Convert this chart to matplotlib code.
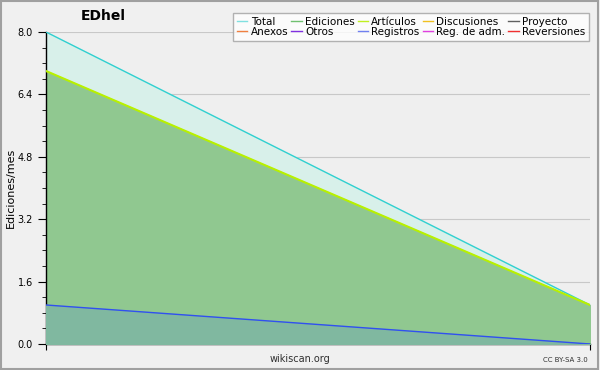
import matplotlib
matplotlib.use("Agg")
import matplotlib.pyplot as plt
from matplotlib.lines import Line2D
from matplotlib.patches import Rectangle

# data: two months
x = [0, 1]
total = [8.0, 1.0]
ediciones = [7.0, 1.0]
articulos = [7.0, 1.0]
registros = [1.0, 0.0]

legend_names = ["Total", "Ediciones", "Artículos", "Discusiones", "Proyecto",
                "Anexos", "Otros", "Registros", "Reg. de adm.", "Reversiones"]
legend_colors = ["#80e0e0", "#70c070", "#c0f020", "#f0c020", "#606060",
                 "#f08040", "#8030e0", "#7080f0", "#e040e0", "#f03030"]

fig = plt.figure(figsize=(6, 3.7), dpi=100)
fig.patch.set_facecolor("#f0f0f0")
fig.patches.append(Rectangle((0.002, 0.003), 0.994, 0.994, transform=fig.transFigure,
                             fill=False, edgecolor="#a0a0a0", linewidth=1.5))

ax = fig.add_axes([0.0767, 0.0703, 0.9066, 0.8432])
ax.set_facecolor("#efefef")

ax.fill_between(x, total, color="#d8f0ea", zorder=1)
ax.plot(x, total, color="#30d0d0", linewidth=1, zorder=4)
ax.fill_between(x, ediciones, color="#90c890", zorder=2)
ax.plot(x, articulos, color="#b8f000", linewidth=1.5, zorder=5)
ax.fill_between(x, registros, color="#80b8a0", zorder=3)
ax.plot(x, registros, color="#3050f0", linewidth=1, zorder=6)

ax.set_xlim(0, 1)
ax.set_ylim(0, 8)
ax.set_yticks([0, 1.6, 3.2, 4.8, 6.4, 8.0])
ax.set_yticklabels(["0.0", "1.6", "3.2", "4.8", "6.4", "8.0"])
ax.set_yticks([0.4 * i for i in range(21)], minor=True)
ax.set_xticks([0, 1])
ax.set_xticklabels([])
ax.tick_params(axis="y", which="major", length=6, labelsize=7, colors="black")
ax.tick_params(axis="y", which="minor", length=3)
ax.tick_params(axis="x", length=4)
ax.grid(axis="y", which="major", color="#c8c8c8", linewidth=0.8, zorder=0)
ax.set_axisbelow(True)
for s in ["top", "right"]:
    ax.spines[s].set_visible(False)
ax.spines["left"].set_linewidth(1)
ax.spines["bottom"].set_linewidth(1)
ax.set_ylabel("Ediciones/mes", fontsize=8)
ax.yaxis.set_label_coords(-0.056, 0.5)

fig.text(0.135, 0.945, "EDhel", fontsize=10, fontweight="bold", ha="left")
fig.text(0.5, 0.022, "wikiscan.org", fontsize=7, ha="center", color="#303030")
fig.text(0.98, 0.022, "CC BY-SA 3.0", fontsize=5, ha="right", color="#303030")

handles = [Line2D([0], [0], color=c, linewidth=1) for c in legend_colors]
order = [0, 5, 1, 6, 2, 7, 3, 8, 4, 9]
leg = fig.legend([handles[i] for i in order], [legend_names[i] for i in order],
                 ncol=5, loc="upper right", bbox_to_anchor=(0.99, 0.978),
                 fontsize=7.5, frameon=True, fancybox=False, handlelength=1.0,
                 handletextpad=0.3, columnspacing=0.3, labelspacing=0.0,
                 borderpad=0.35)
leg.get_frame().set_edgecolor("#a0a0a0")
leg.get_frame().set_facecolor("white")

fig.savefig("out.png", dpi=100, facecolor=fig.get_facecolor())
